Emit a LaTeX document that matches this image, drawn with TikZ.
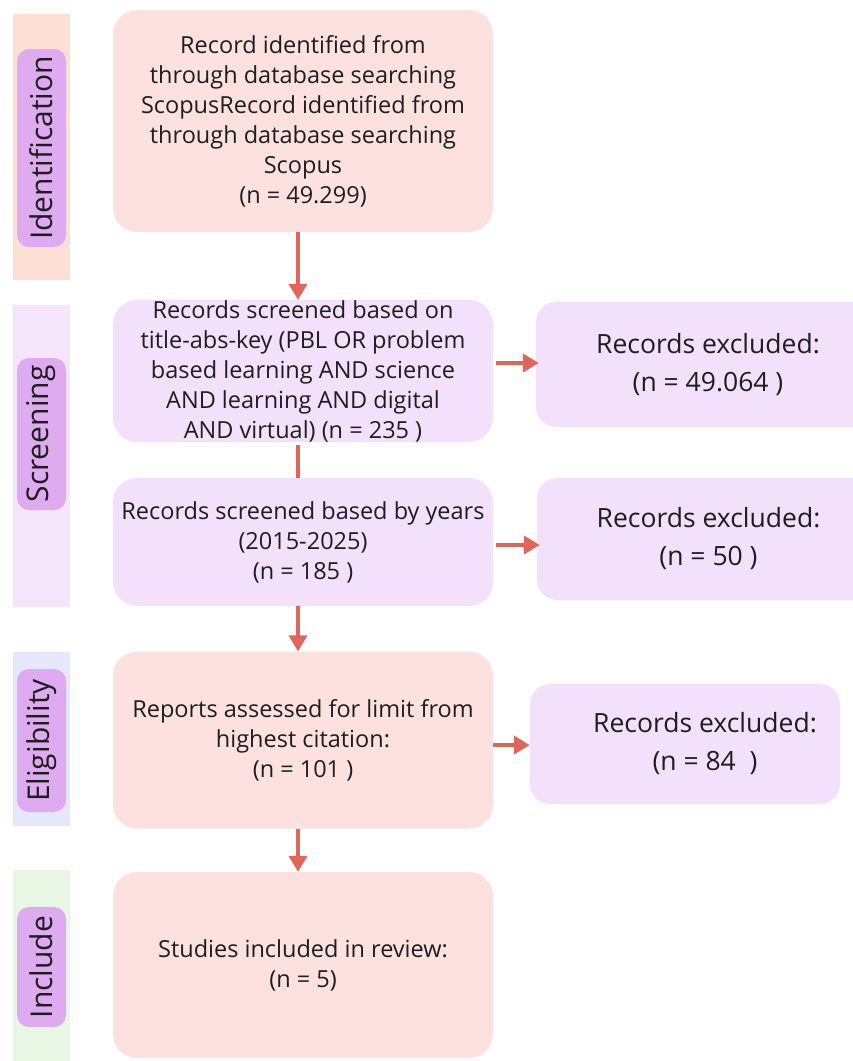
\documentclass[tikz,border=0pt]{standalone}
\usepackage{fontspec}
\setmainfont{Open Sans}
\usepackage{tikz}
\usetikzlibrary{positioning, arrows.meta, calc}

\definecolor{boxpink}{RGB}{252,225,223}
\definecolor{boxlilac}{RGB}{243,224,250}
\definecolor{barpeach}{RGB}{253,223,213}
\definecolor{barlilac}{RGB}{244,229,250}
\definecolor{barblue}{RGB}{229,231,250}
\definecolor{bargreen}{RGB}{231,247,228}
\definecolor{pilllilac}{RGB}{222,170,240}
\definecolor{arrowred}{RGB}{224,102,92}
\definecolor{textdark}{RGB}{30,30,30}

\begin{document}
\begin{tikzpicture}[x=1pt, y=-1pt,
  stagebox/.style={rounded corners=24pt, minimum width=380pt, inner sep=0pt,
    align=center, text=textdark, font=\fontsize{23.5}{30}\selectfont},
  exclbox/.style={rounded corners=20pt, fill=boxlilac, inner sep=0pt,
    align=center, text=textdark, font=\fontsize{26.5}{38}\selectfont},
  pill/.style={rounded corners=12pt, fill=pilllilac, rotate=90, inner sep=0pt,
    minimum height=49pt, text=textdark, font=\fontsize{30}{30}\selectfont},
  flowarrow/.style={arrowred, line width=4pt, -{Triangle[width=18pt,length=16pt]}},
  flowline/.style={arrowred, line width=4pt}]

  \useasboundingbox (0,0) rectangle (853,1061);

  % --- Stage bars ---
  \fill[barpeach] (13,14) rectangle (70,280);
  \fill[barlilac] (13,305) rectangle (70,607);
  \fill[barblue] (13,652) rectangle (70,826);
  \fill[bargreen] (13,870) rectangle (70,1070);

  % --- Stage labels ---
  \node[pill, minimum width=198pt] (lblident) at (41.5,148) {Identification};
  \node[pill, minimum width=152pt] (lblscreen) at (41.5,434) {Screening};
  \node[pill, minimum width=143pt] (lblelig) at (41.5,740.5) {Eligibility};
  \node[pill, minimum width=120pt] (lblincl) at (41.5,967) {Include};

  % --- Main flow ---
  \node[stagebox, fill=boxpink, minimum height=222pt] (ident) at (303,121)
    {Record identified from\\through database searching\\ScopusRecord identified from\\through database searching\\Scopus\\(n = 49.299)};
  \node[stagebox, fill=boxlilac, minimum height=142pt] (screen1) at (303,371)
    {Records screened based on\\title-abs-key (PBL OR problem\\based learning AND science\\AND learning AND digital\\AND virtual) (n = 235 )};
  \node[stagebox, fill=boxlilac, minimum height=128pt] (screen2) at (303,542)
    {Records screened based by years\\(2015-2025)\\(n = 185 )};
  \node[stagebox, fill=boxpink, minimum height=177pt] (elig) at (303,740)
    {Reports assessed for limit from\\highest citation:\\(n = 101 )};
  \node[stagebox, fill=boxpink, minimum height=186pt] (incl) at (303,965)
    {Studies included in review:\\(n = 5)};

  % --- Exclusions ---
  \node[exclbox, minimum width=344pt, minimum height=125pt] (excl1) at (708,364.5)
    {Records excluded:\\(n = 49.064 )};
  \node[exclbox, minimum width=343pt, minimum height=122pt] (excl2) at (708.5,539)
    {Records excluded:\\(n = 50 )};
  \node[exclbox, minimum width=310pt, minimum height=120pt] (excl3) at (685,744) {};
  \node[align=center, text=textdark, font=\fontsize{26.5}{38}\selectfont] (excl3txt)
    at ([xshift=20pt]excl3.center) {Records excluded:\\(n = 84\ \ )};

  % --- Connectors ---
  \draw[flowarrow] ([xshift=-5pt]ident.south) -- ([xshift=-5pt]screen1.north);
  \draw[flowline] ([xshift=-5pt,yshift=-3pt]screen1.south) -- ([xshift=-5pt]screen2.north);
  \draw[flowarrow] ([xshift=-5pt]screen2.south) -- ([xshift=-5pt]elig.north);
  \draw[flowarrow] ([xshift=-5pt]elig.south) -- ([xshift=-5pt]incl.north);

  \draw[flowarrow] ([xshift=3pt,yshift=8pt]screen1.east) -- ([xshift=3pt,yshift=8pt]screen1.east -| excl1.west);
  \draw[flowarrow] ([xshift=3pt,yshift=-3pt]screen2.east) -- ([xshift=3pt,yshift=-3pt]screen2.east -| excl2.west);
  \draw[flowarrow] ([yshift=-5pt]elig.east) -- ([yshift=-5pt]elig.east -| excl3.west);

\end{tikzpicture}
\end{document}
